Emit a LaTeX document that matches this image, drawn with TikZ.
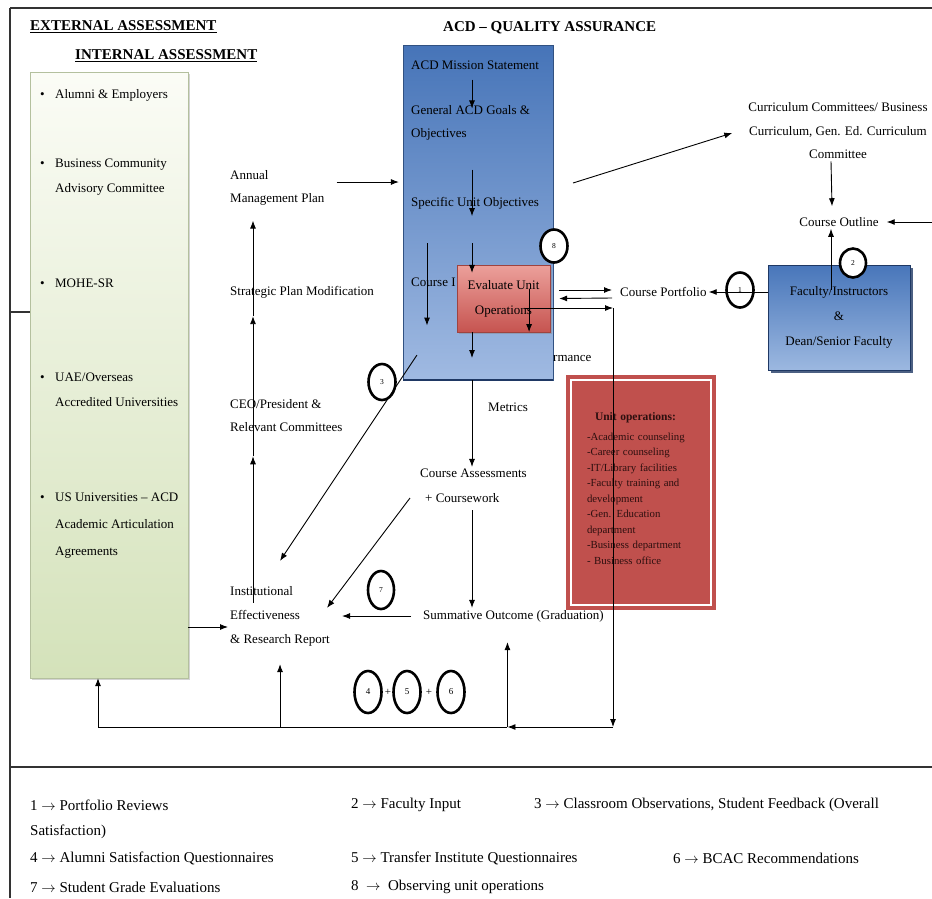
\documentclass[tikz,border=0pt]{standalone}
\usepackage{fontspec}
\setmainfont{Liberation Serif}
\usetikzlibrary{shapes,arrows,arrows.meta,positioning,shadows}

\definecolor{acdtop}{RGB}{70,116,184}
\definecolor{acdbot}{RGB}{160,186,226}
\definecolor{factop}{RGB}{72,118,186}
\definecolor{facbot}{RGB}{156,184,224}
\definecolor{evaltop}{RGB}{236,160,155}
\definecolor{evalbot}{RGB}{198,84,80}
\definecolor{unitred}{RGB}{192,80,77}
\definecolor{unittext}{RGB}{45,15,15}
\definecolor{greentop}{RGB}{251,252,246}
\definecolor{greenbot}{RGB}{212,226,186}
\definecolor{navy}{RGB}{31,56,100}

\newcommand{\bul}{\makebox[15pt][l]{\textbullet}}
\newcommand{\ind}{\hspace*{15pt}}

\begin{document}
\begin{tikzpicture}[x=1pt, y=-1pt, font=\fontsize{13}{16}\selectfont,
    heading/.style = {anchor=west, inner sep=2pt, font=\fontsize{15}{18}\selectfont\bfseries},
    txt/.style = {anchor=west, align=left, inner sep=2pt},
    ctxt/.style = {align=center, inner sep=2pt},
    keytxt/.style = {anchor=west, inner sep=2pt, font=\fontsize{15}{18}\selectfont},
    greenbox/.style = {rectangle, minimum width=158pt, minimum height=606pt, top color=greentop, bottom color=greenbot, draw=greenbot!85!black, very thin, drop shadow={shadow xshift=2pt, shadow yshift=-2pt, opacity=0.35}},
    acdbox/.style = {rectangle, minimum width=150pt, minimum height=335pt, top color=acdtop, bottom color=acdbot, draw=acdtop!70!black, very thin},
    evalbox/.style = {rectangle, minimum width=93pt, minimum height=67pt, top color=evaltop, bottom color=evalbot, draw=evalbot!80!black, very thin, align=center, font=\fontsize{13}{25}\selectfont, drop shadow={shadow xshift=2pt, shadow yshift=-2pt, opacity=0.4}},
    facbox/.style = {rectangle, minimum width=142pt, minimum height=105pt, top color=factop, bottom color=facbot, draw=navy, very thin, align=center, font=\fontsize{13}{25}\selectfont, drop shadow={fill=navy, shadow xshift=3pt, shadow yshift=-3pt, opacity=0.8}},
    unitbox/.style = {rectangle, minimum width=140pt, minimum height=225pt, fill=unitred, draw=white, line width=1.6pt, preaction={draw=unitred, line width=10pt}, text width=108pt, align=left, text=unittext, font=\fontsize{10.8}{15.5}\selectfont},
    num/.style = {ellipse, draw, line width=2.6pt, fill=white, inner sep=0pt, minimum width=27pt, minimum height=34pt, font=\fontsize{7.5}{8}\selectfont},
    arrow/.style = {line width=0.9pt, -{Latex[length=8pt, width=6pt]}},
    rule/.style = {line width=1.2pt, black!80}
]
\useasboundingbox (0,0) rectangle (932,898);

% Frame
\draw[rule] (10,8) -- (932,8);
\draw[rule] (10,8) -- (10,898);
\draw[rule] (10,767) -- (932,767);

% Headings
\node[heading] (ext) at (28,27) {\underline{EXTERNAL ASSESSMENT}};
\node[heading] (int) at (73,56) {\underline{INTERNAL ASSESSMENT}};
\node[heading] (qa) at (441,28) {ACD -- QUALITY ASSURANCE};

% Assessment bodies
\node[greenbox] (green) at (109,375) {};
\coordinate (tick) at (10,312);
\draw[rule] (tick) -- (tick -| green.west);
\node[txt, font=\fontsize{13}{25}\selectfont] (alumni) at (38,95) {\bul Alumni \& Employers};
\node[txt, font=\fontsize{13}{25}\selectfont] (bcac) at (38,177) {\bul Business Community\\\ind Advisory Committee};
\node[txt, font=\fontsize{13}{25}\selectfont] (mohe) at (38,283) {\bul MOHE-SR};
\node[txt, font=\fontsize{13}{25}\selectfont] (uae) at (38,390) {\bul UAE/Overseas\\\ind Accredited Universities};
\node[txt, font=\fontsize{13}{27}\selectfont] (usu) at (38,526) {\bul US Universities -- ACD\\\ind Academic Articulation\\\ind Agreements};

% Management column
\node[txt, font=\fontsize{13}{23}\selectfont] (amp) at (228,188) {Annual\\Management Plan};
\node[txt] (spm) at (228,292) {Strategic Plan Modification};
\node[txt, font=\fontsize{13}{23}\selectfont] (ceo) at (228,416) {CEO/President \&\\Relevant Committees};
\node[txt, font=\fontsize{13}{24}\selectfont] (ier) at (228,616) {Institutional\\Effectiveness\\\& Research Report};

% Quality assurance box
\node[acdbox] (acd) at (478,212.5) {};
\draw[navy, line width=2.5pt] (acd.south west) -- (acd.south east);
\node[txt] (mission) at (409,65) {ACD Mission Statement};
\node[txt, font=\fontsize{13}{23}\selectfont] (general) at (409,123) {General ACD Goals \&\\Objectives};
\node[txt] (specific) at (409,203) {Specific Unit Objectives};
\node[txt] (coursei) at (409,282) {Course I};
\node[evalbox] (eval) at (503.5,298.5) {Evaluate Unit\\Operations};
\node[txt] (rmance) at (551,358) {rmance};
\node[txt] (metrics) at (486,407) {Metrics};
\node[txt, font=\fontsize{13}{25}\selectfont] (ca) at (418,486) {Course Assessments\\\hspace*{5pt}+ Coursework};
\node[txt] (summ) at (421,616) {Summative Outcome (Graduation)};

% Curriculum side
\node[ctxt, font=\fontsize{13}{23.5}\selectfont] (cur) at (838,131) {Curriculum Committees/ Business\\Curriculum, Gen. Ed. Curriculum\\Committee};
\node[ctxt] (co) at (839,222) {Course Outline};
\node[facbox] (fac) at (839,317.5) {Faculty/Instructors\\\&\\Dean/Senior Faculty};
\node[txt] (cp) at (618,292) {Course Portfolio};

% Numbered markers
\node[num, minimum height=33pt] (n8) at (554,246) {8};
\node[num, minimum height=35pt] (n1) at (740,290) {1};
\node[num, minimum width=26pt, minimum height=29pt] (n2) at (853,263) {2};
\node[num, minimum height=36pt] (n3) at (382,382) {3};
\node[num, minimum width=26pt, minimum height=38pt] (n7) at (381,590) {7};
\node[num, minimum height=42pt, font=\fontsize{9}{10}\selectfont] (n4) at (368,692) {4};
\node[num, minimum height=42pt, font=\fontsize{9}{10}\selectfont] (n5) at (407,692) {5};
\node[num, minimum height=42pt, font=\fontsize{9}{10}\selectfont] (n6) at (451,692) {6};
\node[inner sep=0pt, font=\fontsize{11}{12}\selectfont] (p45) at (388,692) {+};
\node[inner sep=0pt, font=\fontsize{11}{12}\selectfont] (p56) at (429,692) {+};

% Unit operations
\node[unitbox] (units) at (641,492.5) {\hspace*{8pt}{\fontsize{11.5}{15.5}\selectfont\bfseries Unit operations:}\\[4pt]-Academic counseling\\-Career counseling\\-IT/Library facilities\\-Faculty training and\\development\\-Gen. Education\\department\\-Business department\\- Business office\\[-8pt]\mbox{}};

% Flow inside the QA box
\coordinate (axis) at (472,0);
\coordinate (lax) at (427,0);
\draw[arrow] ([yshift=-8pt]mission.south -| axis) -- ([yshift=-5pt]general.north -| axis);
\draw[arrow] ([yshift=-27pt]general.south -| axis) -- ([yshift=-5pt]specific.south -| axis);
\draw[arrow] ([yshift=-32pt]specific.south -| axis) -- ([yshift=-8pt]eval.north -| axis);
\draw[arrow] ([yshift=-32pt]specific.south -| lax) -- ([yshift=-37pt]coursei.south -| lax);
\draw[arrow] ([xshift=-21pt,yshift=10pt]eval.east) -- ([xshift=-21pt]eval.south east);
\draw[arrow] (eval.south -| axis) -- (rmance.west -| axis);
\draw[arrow] (acd.south -| axis) -- (ca.north -| axis);
\draw[arrow] ([yshift=-5pt]ca.south -| axis) -- (summ.north -| axis);

% Flow to the report
\draw[arrow] ([xshift=-10pt]summ.west) -- ([xshift=10pt]ier.east);
\draw[arrow] ([xshift=-8pt,yshift=-12pt]ca.west) -- ([xshift=-5pt,yshift=-24pt]ier.north east);
\draw[arrow] ([xshift=14pt,yshift=25pt]acd.south west) -- ([yshift=23pt]ier.north);
\draw[arrow] ([yshift=-11pt]green.east |- ier.west) -- ([yshift=-11pt]ier.west);

% Management column
\coordinate (vax) at (253,0);
\draw[arrow] ([yshift=-19pt]ier.north -| vax) -- ([yshift=-22pt]ceo.south -| vax);
\draw[arrow] ([yshift=-22pt]ceo.south -| vax) -- ([yshift=-16pt]spm.south -| vax);
\draw[arrow] ([yshift=-16pt]spm.south -| vax) -- ([yshift=-13pt]amp.south -| vax);
\draw[arrow] ([xshift=10pt,yshift=6pt]amp.east) -- ([xshift=-4pt,yshift=6pt]amp.east -| acd.west);

% Curriculum side
\coordinate (cstart) at (573,183);
\coordinate (redge) at (932,225);
\draw[arrow] (cstart) -- ([xshift=-14pt,yshift=-2pt]cur.west);
\draw[arrow] ([xshift=-7pt]cur.south) -- ([xshift=-7pt,yshift=9pt]co.north);
\draw[arrow] (redge |- co.east) -- ([xshift=6pt]co.east);
\draw[arrow] ([xshift=-8pt,yshift=-25pt]fac.north) -- ([xshift=-8pt]co.south);
\draw[arrow] (fac.west |- cp.east) -- (cp.east);
\draw[arrow] ([xshift=9pt,yshift=8.5pt]eval.east) -- ([xshift=-6pt,yshift=2pt]cp.west);
\draw[arrow] ([xshift=-6pt,yshift=-6pt]cp.west) -- ([xshift=9pt]eval.east);

% Feedback loop
\coordinate (bend) at (613,308);
\coordinate (corner) at (613,727);
\coordinate (gcorner) at (98,727);
\draw[arrow] ([xshift=-25pt,yshift=-9.5pt]eval.east) -- (bend);
\draw[arrow] (bend) -- (corner);
\draw[arrow] (corner) -- ([xshift=-6pt]corner -| summ.south);
\draw[line width=0.9pt] ([xshift=-6pt]corner -| summ.south) -- (gcorner);
\draw[arrow] (gcorner) -- (gcorner |- green.south);
\draw[arrow] (corner -| ier.south) -- ([yshift=-16pt]ier.south);
\draw[arrow] ([xshift=-6pt]corner -| summ.south) -- ([xshift=-6pt,yshift=-18pt]summ.south);

% Key
\node[keytxt] (k1) at (28,805) {1 $\rightarrow$ Portfolio Reviews};
\node[keytxt] (k2) at (349,805) {2 $\rightarrow$ Faculty Input};
\node[keytxt] (k3) at (532,805) {3 $\rightarrow$ Classroom Observations, Student Feedback (Overall};
\node[keytxt] (k3b) at (28,832) {Satisfaction)};
\node[keytxt] (k4) at (28,858) {4 $\rightarrow$ Alumni Satisfaction Questionnaires};
\node[keytxt] (k5) at (349,858) {5 $\rightarrow$ Transfer Institute Questionnaires};
\node[keytxt] (k6) at (671,858) {6 $\rightarrow$ BCAC Recommendations};
\node[keytxt] (k7) at (28,887) {7 $\rightarrow$ Student Grade Evaluations};
\node[keytxt] (k8) at (349,887) {8 \ $\rightarrow$ \ Observing unit operations};
\end{tikzpicture}
\end{document}
